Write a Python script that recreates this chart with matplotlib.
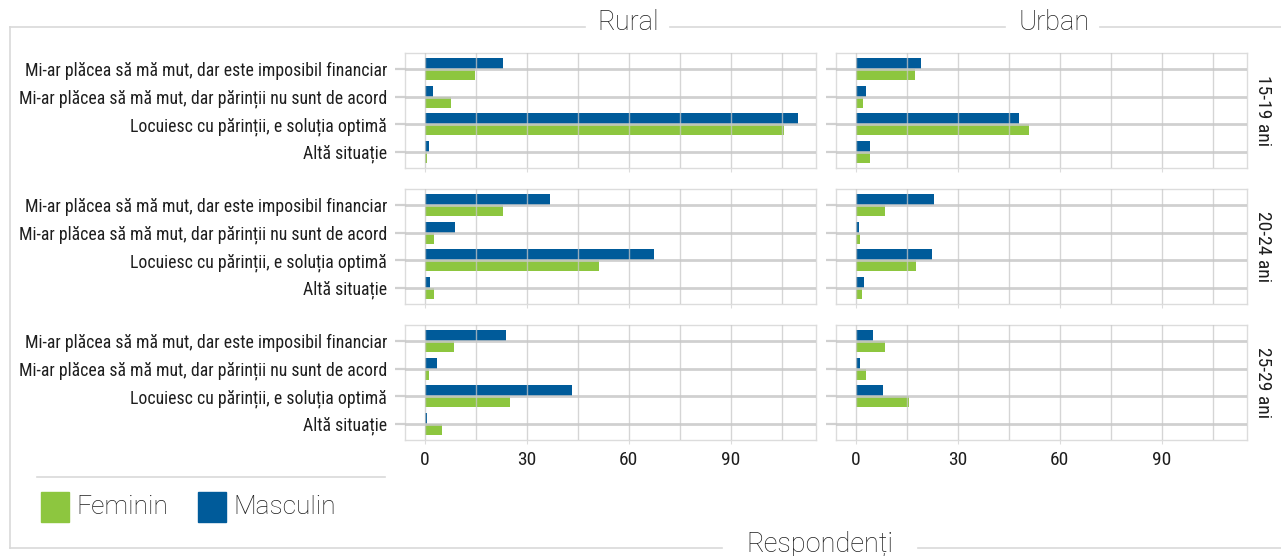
import matplotlib
matplotlib.use("Agg")
import matplotlib.pyplot as plt
from matplotlib import font_manager
from matplotlib.lines import Line2D
from matplotlib.patches import Rectangle

# data: respondents per answer, split by sex, area and age group
answers = [
    "Mi-ar plăcea să mă mut, dar este imposibil financiar",
    "Mi-ar plăcea să mă mut, dar părinții nu sunt de acord",
    "Locuiesc cu părinții, e soluția optimă",
    "Altă situație",
]
areas = ["Rural", "Urban"]
ages = ["15-19 ani", "20-24 ani", "25-29 ani"]

rural_masc = [[23.1, 2.3, 109.7, 1.3], [36.9, 8.9, 67.4, 1.6], [24.0, 3.6, 43.3, 0.7]]
rural_fem = [[14.7, 7.8, 105.6, 0.6], [23.0, 2.7, 51.3, 2.7], [8.7, 1.3, 25.2, 5.1]]
urban_masc = [[19.3, 3.1, 47.9, 4.3], [23.0, 1.0, 22.4, 2.4], [5.1, 1.3, 8.0, 0.0]]
urban_fem = [[17.3, 2.2, 51.1, 4.3], [8.6, 1.3, 17.7, 1.8], [8.6, 3.0, 15.7, 0.0]]

GREEN = "#8dc63f"
BLUE = "#005b9a"
GRID = "#c8c8c8"
TXT = "#1e1e1e"

names = {f.name for f in font_manager.fontManager.ttflist}
if "Roboto Condensed" in names:
    COND = "Roboto Condensed"
elif "Liberation Sans Narrow" in names:
    COND = "Liberation Sans Narrow"
else:
    COND = "Roboto"
LIGHT = "Roboto"

W, H = 1281, 556
fig = plt.figure(figsize=(W / 100, H / 100), dpi=100)


def fx(x):
    return x / W


def fy(y):
    return 1 - y / H


col_left = [405, 836]
row_top = [53, 189, 325]
pw, ph = 411, 115

data = {"Rural": (rural_masc, rural_fem), "Urban": (urban_masc, urban_fem)}
ypos = list(range(len(answers)))

for r, age in enumerate(ages):
    for c, area in enumerate(areas):
        ax = fig.add_axes([fx(col_left[c]), fy(row_top[r] + ph), pw / W, ph / H])
        masc, fem = data[area]
        ax.barh([y - 0.2 for y in ypos], masc[r], height=0.4, color=BLUE, zorder=1)
        ax.barh([y + 0.2 for y in ypos], fem[r], height=0.4, color=GREEN, zorder=1)
        ax.set_xlim(-5.8, 115.1)
        ax.set_ylim(3.6, -0.6)
        ax.set_xticks([0, 30, 60, 90])
        ax.set_xticks([15, 45, 75, 105], minor=True)
        ax.set_yticks(ypos)
        ax.set_axisbelow(False)
        ax.grid(axis="x", which="both", color=GRID, lw=1.0, alpha=0.75, zorder=3)
        ax.grid(axis="y", which="major", color=GRID, lw=2.0, alpha=0.85, zorder=3)
        for s in ax.spines.values():
            s.set_color("#dcdcdc")
            s.set_linewidth(1.0)
        ax.tick_params(axis="y", length=7, width=1.6, color="#d0d0d0", pad=6)
        ax.tick_params(axis="x", which="major", length=3, width=0.8, color="#dcdcdc", pad=5)
        ax.tick_params(axis="x", which="minor", length=0)
        if c == 0:
            ax.set_yticklabels(answers, fontsize=12.8, family=COND, color=TXT)
        else:
            ax.set_yticklabels([])
        if r == 2:
            ax.set_xticklabels(["0", "30", "60", "90"], fontsize=14, family=COND, color=TXT)
        else:
            ax.set_xticklabels([])
        if c == 1:
            ax.text(1.017, 0.5, age, transform=ax.transAxes, rotation=270, va="center",
                    ha="left", fontsize=14, family=COND, color=TXT)

# frame around the chart with the strip titles
line_kw = dict(color="#d9d9d9", lw=1.2, transform=fig.transFigure)
segments = [
    [(10, 27), (585, 27)], [(670, 27), (1005, 27)], [(1100, 27), (1281, 27)],
    [(10, 27), (10, 548)],
    [(10, 548), (722, 548)], [(918, 548), (1281, 548)],
    [(37, 477), (385, 477)],
]
for (x0, y0), (x1, y1) in segments:
    fig.add_artist(Line2D([fx(x0), fx(x1)], [fy(y0), fy(y1)], **line_kw))

title_kw = dict(fontsize=19.5, family=LIGHT, weight="light", color=TXT, ha="center", va="center")
fig.text(fx(628), fy(23), "Rural", **title_kw)
fig.text(fx(1054), fy(23), "Urban", **title_kw)
fig.text(fx(820), fy(544), "Respondenți", **title_kw)

# legend
fig.add_artist(Rectangle((fx(41), fy(522)), 28 / W, 30 / H, color=GREEN, transform=fig.transFigure))
fig.add_artist(Rectangle((fx(198), fy(522)), 28 / W, 30 / H, color=BLUE, transform=fig.transFigure))
leg_kw = dict(fontsize=19, family=LIGHT, weight="light", color=TXT, ha="left", va="center")
fig.text(fx(76), fy(507), "Feminin", **leg_kw)
fig.text(fx(233), fy(507), "Masculin", **leg_kw)

fig.savefig("out.png", dpi=100)
